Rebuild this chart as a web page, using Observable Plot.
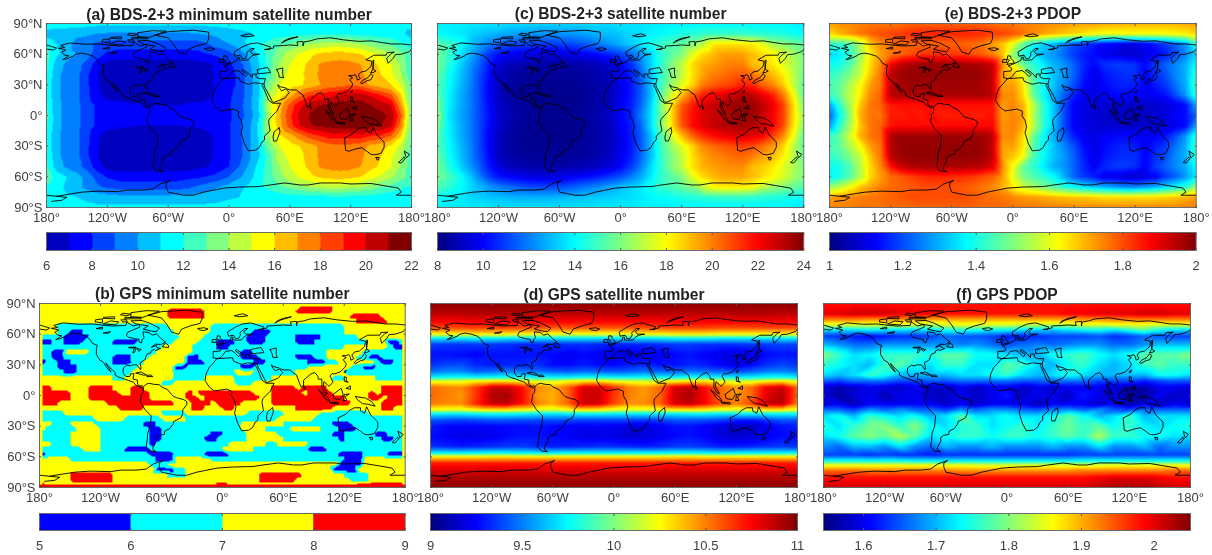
<!DOCTYPE html>
<html><head><meta charset="utf-8">
<script src="https://cdn.jsdelivr.net/npm/d3@7"></script>
<script src="https://cdn.jsdelivr.net/npm/@observablehq/plot@0.6"></script>
<style>
html,body{margin:0;padding:0;background:#fff;}
#root{position:relative;width:1212px;height:555px;overflow:hidden;filter:blur(0.5px);}
#root>svg{position:absolute;}
</style></head><body><div id="root"></div>
<script>
const lon10 = d3.range(-180,181,10);
const lon15 = d3.range(-180,181,15);
const lat10 = d3.range(90,-91,-10);

// (a) BDS-2+3 minimum satellite number
const aRows = [
[11.5,11.5,11.5,11.4,11.4,11.3, 11.3,11.2,11.2,11.2,11.2,11.2, 11.2,11.2,11.2,11.2,11.3,11.3, 11.4,11.4,11.5,11.5,11.5,11.5, 11.5,11.5,11.5,11.5,11.5,11.5, 11.5,11.5,11.5,11.5,11.5,11.5,11.5],
[10.6,10.5,10.4,10.3,10.2,10, 9.9,9.9,9.9,9.9,9.9,9.9, 9.9,9.9,9.9,10,10.2,10.4, 10.5,10.7,10.9,11.2,11.4,11.5, 11.6,11.6,11.7,11.8,11.8,11.8, 11.7,11.6,11.6,11.5,11.4,11.2,10.6],
[11.5,11,10.5,9.5,9.2,8.8, 8.5,8.5,8.5,8.5,8.5,8.5, 8.5,8.5,8.5,8.6,9,9.5, 10,10.5,11.2,11.8,12.3,12.8, 13,13.5,14,14.2,14.4,14.4, 14.3,14,13.5,13,12.8,12.2,11.5],
[12.4,11.2,10.4,10,9.4,8.5, 7.8,7.6,7.5,7.5,7.5,7.5, 7.5,7.5,7.6,7.7,8,8.3, 8.6,9.5,10.3,11.2,12.5,13.5, 14.5,15.2,15.7,16.2,16.4,16.5, 16.3,16,15.4,14.8,14.2,13.4,12.4],
[12.2,10.5,9.8,9.4,8.6,7.5, 6.6,6.5,6.5,6.5,6.5,6.5, 6.5,6.5,6.5,6.6,6.8,7.4, 7.8,8.5,9.8,11,12.5,14, 15,15.6,16.3,17.1,17.3,17.4, 17.3,17,16.3,15.8,15,13.8,12.2],
[12,10.3,9.6,9.3,8.2,7.1, 6.5,6.4,6.4,6.4,6.4,6.4, 6.4,6.4,6.4,6.4,6.7,7.3, 7.7,8.2,9.6,11,12.5,14.6, 15.3,15.7,16.5,17.2,17.4,17.5, 17.6,17.2,16.5,16,15.2,14,12.2],
[11.8,10.2,9.6,9.3,8.2,7.1, 6.5,6.4,6.3,6.3,6.3,6.3, 6.3,6.3,6.3,6.4,6.7,7.3, 7.7,8.2,9.6,11,13.5,15, 15.5,15.8,16.4,17,17.4,17.6, 17.8,17.6,16.8,16.4,16,14.8,12.8],
[11.8,10.2,9.6,9.3,8.3,7.2, 6.7,6.7,6.7,6.6,6.6,6.6, 6.6,6.6,6.6,6.7,6.8,7.3, 7.8,8.4,9.6,11,14.3,15.5, 16.5,17.8,18.8,19.2,19.8,20, 20.5,20.5,19.8,19,18.2,16,12.8],
[12,10.3,9.7,9.3,8.5,7.8, 7.3,7.2,7.1,7.1,7,7, 7,7,7.1,7.1,7.3,7.6, 7.9,8.6,9.7,11.2,14.8,16.5, 18.3,19.8,20.6,21,21.2,21.5, 21.6,21.4,21,20.6,20,17,13],
[12.4,10.3,9.7,9.3,8.5,7.8, 7.3,7.2,7.3,7.1,7.4,7.1, 7.3,7.2,7.4,7.1,7.3,7.6, 7.8,8.5,9.5,11,14.5,16.8, 18.8,20.3,21.1,21.5,21.7,21.8, 21.8,21.8,21.6,21.3,20.8,18,13],
[12,10.3,9.7,9.3,8.5,7.8, 7.3,7.2,7.1,7,7,7, 7,7,7.1,7.1,7.3,7.6, 7.9,8.8,9.8,11.3,14.8,16.6, 18.5,20,20.9,21.2,21.4,21.6, 21.7,21.6,21.3,21,20.2,17.4,13],
[11.8,10.2,9.6,9.3,8.3,7.2, 6.6,6.5,6.4,6.4,6.4,6.4, 6.4,6.4,6.4,6.5,6.8,7.3, 7.9,8.8,9.8,11.2,14.2,15.8, 16.5,17.5,18.5,19,19.5,19.5, 19.5,19.5,19,18.8,18,16,12.8],
[11.8,10.2,9.6,9.3,8.2,7.1, 6.5,6.4,6.3,6.3,6.3,6.3, 6.3,6.3,6.3,6.4,6.8,7.3, 7.9,8.6,9.8,11.1,13.5,15, 15.5,16,16.6,17.2,17.6,17.7, 17.6,17.4,16.7,16.3,15.8,14.6,12.8],
[12,10.3,9.6,9.3,8.2,7.1, 6.5,6.4,6.4,6.4,6.4,6.4, 6.4,6.4,6.4,6.5,6.8,7.3, 7.9,8.6,9.8,11,12.5,14.6, 15.3,15.7,16.5,17.2,17.4,17.6, 17.6,17.2,16.5,16,15.2,14,12.4],
[12.2,10.5,9.8,9.4,8.6,7.5, 6.6,6.5,6.5,6.5,6.5,6.5, 6.5,6.5,6.6,6.8,7,7.5, 8,9,10.2,11.4,12.6,14, 15,15.6,16.3,17.1,17.3,17.4, 17.3,17,16.3,15.8,15,13.8,12.4],
[12.6,11.6,11,10.4,9.6,8.6, 7.9,7.6,7.5,7.5,7.5,7.5, 7.5,7.6,7.7,7.8,8.1,8.4, 9,9.8,10.6,11.6,12.6,13.6, 14.5,15.2,15.7,16.2,16.4,16.5, 16.3,16,15.4,14.8,14.2,13.4,12.6],
[11.8,11.4,10.8,10.3,9.7,9.2, 8.8,8.6,8.5,8.5,8.5,8.5, 8.5,8.6,8.8,9.2,9.6,10, 10.4,10.8,11.2,11.8,12.2,12.8, 13.2,13.6,14,14.2,14.4,14.4, 14.2,14,13.6,13,12.6,12.2,11.8],
[11.3,11.2,11.1,11,10.8,10.6, 10.5,10.4,10.4,10.4,10.4,10.4, 10.4,10.5,10.5,10.6,10.7,10.8, 10.9,11,11.1,11.2,11.3,11.4, 11.5,11.5,11.6,11.6,11.7,11.7, 11.7,11.6,11.6,11.5,11.5,11.4,11.3],
[11.3,11.3,11.3,11.3,11.2,11.2, 11.2,11.2,11.2,11.2,11.2,11.2, 11.2,11.2,11.2,11.2,11.2,11.2, 11.3,11.3,11.3,11.3,11.4,11.4, 11.4,11.4,11.4,11.4,11.4,11.4, 11.4,11.4,11.4,11.4,11.4,11.3,11.3]
];

// (b) GPS minimum satellite number: rows of [value, run length] on a 6 x 5 degree grid
const bRuns = [
[7,43,8,5,7,12],
[7,21,8,6,7,15,8,6,7,12],
[7,21,8,6,7,24,8,5,7,4],
[7,52,8,5,7,3],
[7,3,6,18,7,7,6,22,7,10],
[7,3,6,2,5,2,6,15,7,6,6,7,5,3,6,12,7,10],
[6,4,5,4,6,15,7,4,6,7,5,3,6,5,5,4,6,6,7,8],
[5,2,6,2,5,3,6,5,5,4,6,6,7,4,6,3,5,3,6,2,5,3,6,5,5,3,6,9,7,3,5,2,6,1],
[6,20,7,5,6,4,5,2,6,19,7,7,6,1,5,2],
[6,2,5,2,7,4,6,11,7,6,6,8,5,2,6,12,7,6,6,7],
[6,2,5,2,6,8,5,3,6,3,7,6,5,2,6,7,5,3,6,6,5,3,6,2,7,5,6,2,5,2,6,4],
[5,1,6,2,5,2,6,7,5,3,6,2,7,7,5,3,6,8,5,2,6,7,5,3,6,2,7,6,6,1,5,2,6,2],
[6,3,5,3,6,10,7,6,5,2,6,9,5,2,6,9,7,7,6,2,5,2,6,5],
[6,4,5,2,6,9,7,7,6,10,7,3,6,7,7,8,6,10],
[7,12,6,2,7,8,6,5,7,5,6,6,7,10,6,2,7,5,6,5],
[7,20,6,2,7,10,6,3,7,25],
[8,2,7,6,8,4,7,3,8,2,7,21,8,4,7,1,8,4,7,9,8,4],
[8,5,7,3,8,5,7,2,8,3,7,6,8,1,7,1,8,9,7,3,8,5,7,1,8,4,7,6,8,1,7,1,8,4],
[8,5,7,3,8,10,7,6,8,2,7,1,8,9,7,2,8,12,7,4,8,2,7,1,8,3],
[8,3,7,8,8,11,7,3,8,3,7,1,8,4,7,5,8,13,7,5,8,4],
[7,13,8,4,7,8,8,2,7,3,8,2,7,10,8,6,7,8,8,2,7,2],
[6,4,7,16,6,4,7,10,6,6,7,6,6,8,7,6],
[6,9,7,5,6,6,7,4,6,15,7,6,6,15],
[7,2,6,3,7,4,6,8,5,2,6,14,7,7,6,8,5,3,6,9],
[7,1,6,5,7,4,6,8,5,2,6,13,7,4,6,4,7,5,6,3,5,3,6,8],
[6,5,7,5,6,8,5,2,6,8,5,2,6,4,7,5,6,9,5,2,6,5,5,2,6,3],
[6,5,7,5,6,8,5,2,6,7,5,2,6,5,7,6,6,9,5,1,6,6,5,2,6,2],
[7,2,6,3,7,5,6,8,5,1,6,12,7,6,6,2,7,5,6,16],
[6,7,7,3,6,4,5,4,6,12,7,5,6,9,5,3,6,13],
[5,1,6,17,5,4,6,5,5,4,6,18,5,4,6,4,5,3],
[7,5,6,14,5,3,7,6,6,22,5,3,7,7],
[7,18,6,3,7,28,5,4,7,7],
[7,19,5,3,6,2,7,24,5,4,7,8],
[7,5,8,7,7,9,6,3,7,12,8,7,7,7,6,4,7,6],
[7,5,8,7,7,24,8,6,7,9,6,3,7,6],
[8,1,7,28,8,2,7,21,8,8]
];

// (c) BDS-2+3 satellite number
const cRows = [
[13.8,13.8,13.8,13.7,13.7,13.6, 13.6,13.5,13.5,13.4,13.4,13.4, 13.4,13.4,13.4,13.5,13.5,13.5, 13.6,13.6,13.6,13.7,13.7,13.8, 13.8,13.8,13.9,13.9,13.9,13.9, 13.9,13.9,13.9,13.9,13.9,13.8,13.8],
[14,13.9,13.7,13.5,13.2,13, 12.8,12.6,12.5,12.4,12.3,12.3, 12.3,12.4,12.5,12.7,12.9,13, 13.2,13.4,13.6,13.8,14,14.2, 14.4,14.6,14.7,14.8,14.8,14.8, 14.8,14.7,14.6,14.5,14.4,14.2,14],
[15.4,15,14.4,13.4,12.6,12, 11.6,11.3,11.1,11,10.9,10.9, 11,11.1,11.3,11.6,12,12.4, 12.8,13.2,13.7,14.3,14.9,15.2, 15.5,16,16.8,18.2,18.3,18.4, 18.3,18.2,17.5,16.5,16.2,15.8,15.4],
[15.8,15,13.8,13,12,10.8, 10.2,9.9,9.7,9.5,9.4,9.4, 9.5,9.6,9.8,10,10.3,10.6, 11,11.6,12.4,13.4,14.6,15.4, 16,17.5,18.5,19,19.5,19.5, 19.5,19,18.5,18,17.4,16.6,15.8],
[16,14.6,13.6,12.6,11.6,10.4, 9.4,8.9,8.8,8.7,8.6,8.6, 8.6,8.6,8.7,8.8,9,9.3, 10,10.6,12,13.4,14.8,16, 17,18.5,19.2,19.5,19.8,20, 20,19,18.8,18.3,17.5,16.8,16],
[15.6,14.3,13.3,12.4,11.3,10.2, 9,8.7,8.5,8.4,8.4,8.4, 8.4,8.4,8.5,8.6,8.8,9, 9.8,10.4,11.6,13,14.8,16, 17,18.4,19.4,20,20.2,20.5, 20.6,20.2,19.6,19,18.2,17,15.6],
[15.4,14.2,13.2,12.3,11.2,10, 9,8.6,8.4,8.3,8.3,8.3, 8.3,8.3,8.4,8.5,8.7,9, 9.7,10.3,11.4,13,15,16.4, 17.5,18.6,20,20.5,20.8,21, 21.6,21.3,20.4,19.8,18.8,17,15.5],
[15.4,14,13,12.2,11.2,10, 9,8.6,8.4,8.3,8.2,8.2, 8.2,8.2,8.3,8.5,8.7,9, 9.7,10.3,11.4,13,15.3,17.4, 19,20.5,21.5,22,22.4,22.8, 23.2,23,22.3,21.5,20,18,15.4],
[16,14,13,12.2,11.2,10.2, 9.2,8.8,8.5,8.3,8.2,8.2, 8.2,8.2,8.3,8.5,8.7,9, 9.8,10.4,11.6,13.4,16,18.4, 20.6,21.6,22.4,22.9,23.2,23.5, 23.8,23.5,23,22.2,21,18.5,16],
[16.5,13.8,12.8,12.1,11.2,10.3, 9.2,8.9,8.6,8.4,8.3,8.3, 8.3,8.3,8.4,8.6,8.8,9.2, 9.9,10.5,12,13.6,15.8,18.5, 20.8,21.8,22.5,22.8,23,23.5, 23.8,23.5,22.8,22,21,18.5,16.5],
[16,14,13,12.2,11.2,10.2, 9.2,8.8,8.5,8.3,8.2,8.2, 8.2,8.2,8.3,8.5,8.7,9, 9.8,10.4,11.6,13.6,16,18.4, 20.6,21.8,22.5,22.9,23.1,23.3, 23.4,23.2,22.8,22,20.8,18.4,16],
[15.4,14,13,12.2,11.2,10, 9,8.6,8.4,8.3,8.2,8.2, 8.2,8.2,8.3,8.5,8.7,9, 9.7,10.3,11.4,13,15.2,17.2, 19,20.4,21.3,21.8,22.2,22.4, 22.6,22.4,22,21,19.8,17.8,15.4],
[15.4,14.2,13.2,12.3,11.2,10, 9,8.6,8.4,8.3,8.3,8.3, 8.3,8.3,8.4,8.5,8.7,9, 9.7,10.3,11.4,13,15,16.4, 17.5,18.6,19.8,20.3,20.6,20.8, 21,20.8,20.2,19.6,18.6,17,15.4],
[15.6,14.3,13.3,12.4,11.3,10.2, 9,8.7,8.5,8.4,8.4,8.4, 8.4,8.4,8.5,8.6,8.8,9.1, 9.8,10.4,11.6,13,14.8,16, 17,18.4,19.3,19.8,20,20.3, 20.4,20,19.5,19,18.2,17,15.6],
[16,14.6,13.6,12.6,11.6,10.4, 9.5,9,8.8,8.7,8.6,8.6, 8.6,8.7,8.8,8.9,9.1,9.4, 10,10.8,12,13.4,14.8,16, 17,18.4,19.2,19.5,19.7,19.8, 19.8,19,18.8,18.3,17.5,16.8,16],
[16,15.2,14.4,13.4,12.2,11, 10.3,10,9.8,9.6,9.5,9.5, 9.6,9.8,10,10.2,10.5,10.9, 11.3,11.9,12.7,13.7,14.8,15.4, 16,17.5,18.5,19,19.4,19.4, 19.4,19,18.5,18,17.4,16.6,16],
[15.2,14.8,14.2,13.6,13,12.4, 12,11.7,11.4,11.2,11.1,11.1, 11.2,11.4,11.7,12,12.3,12.6, 13,13.3,13.7,14.2,14.8,15.2, 15.5,16,17,18,18.2,18.3, 18.2,18,17,16.4,16.1,15.6,15.2],
[14,13.9,13.7,13.5,13.3,13.1, 13,12.9,12.8,12.8,12.8,12.8, 12.9,13,13,13.1,13.2,13.3, 13.4,13.5,13.7,13.9,14,14.2, 14.3,14.5,14.6,14.7,14.8,14.8, 14.8,14.7,14.6,14.5,14.4,14.2,14],
[13.8,13.8,13.8,13.7,13.7,13.7, 13.6,13.6,13.6,13.6,13.6,13.6, 13.6,13.6,13.6,13.6,13.7,13.7, 13.7,13.7,13.8,13.8,13.8,13.8, 13.9,13.9,13.9,13.9,13.9,13.9, 13.9,13.9,13.9,13.9,13.9,13.8,13.8]
];

// (e) BDS-2+3 PDOP
const eRows = [
[1.72,1.74,1.74,1.75,1.76,1.76, 1.76,1.76,1.78,1.78,1.78,1.78, 1.78,1.78,1.78,1.78,1.77,1.76, 1.76,1.75,1.75,1.74,1.74,1.73, 1.72,1.72,1.72,1.71,1.7,1.7, 1.7,1.7,1.7,1.7,1.7,1.71,1.72],
[1.66,1.7,1.73,1.76,1.78,1.8, 1.81,1.82,1.83,1.84,1.84,1.84, 1.84,1.84,1.84,1.83,1.82,1.81, 1.79,1.77,1.74,1.72,1.7,1.68, 1.66,1.65,1.63,1.62,1.62,1.62, 1.62,1.62,1.62,1.62,1.63,1.64,1.66],
[1.42,1.42,1.45,1.55,1.68,1.74, 1.76,1.78,1.78,1.78,1.78,1.78, 1.78,1.78,1.77,1.76,1.72,1.68, 1.6,1.48,1.38,1.33,1.3,1.25, 1.2,1.17,1.15,1.13,1.12,1.1, 1.1,1.12,1.15,1.18,1.22,1.28,1.42],
[1.34,1.36,1.42,1.52,1.64,1.72, 1.76,1.78,1.8,1.82,1.83,1.83, 1.82,1.82,1.8,1.78,1.75,1.68, 1.52,1.4,1.35,1.3,1.27,1.23, 1.18,1.15,1.13,1.1,1.1,1.08, 1.08,1.1,1.12,1.15,1.2,1.26,1.34],
[1.38,1.4,1.45,1.55,1.66,1.74, 1.88,1.94,1.96,1.97,1.97,1.97, 1.97,1.97,1.96,1.95,1.92,1.74, 1.62,1.48,1.42,1.36,1.3,1.27, 1.22,1.16,1.13,1.17,1.18,1.18, 1.17,1.13,1.18,1.22,1.26,1.3,1.38],
[1.42,1.45,1.5,1.57,1.68,1.76, 1.94,1.97,1.98,1.98,1.98,1.98, 1.98,1.98,1.98,1.97,1.94,1.72, 1.68,1.62,1.45,1.38,1.32,1.28, 1.22,1.15,1.1,1.14,1.16,1.17, 1.17,1.12,1.17,1.2,1.26,1.3,1.42],
[1.44,1.47,1.55,1.62,1.72,1.76, 1.93,1.96,1.97,1.97,1.97,1.97, 1.97,1.97,1.97,1.96,1.93,1.72, 1.72,1.65,1.46,1.38,1.32,1.26, 1.2,1.13,1.1,1.13,1.15,1.16, 1.15,1.12,1.15,1.18,1.24,1.3,1.44],
[1.42,1.48,1.56,1.64,1.74,1.78, 1.94,1.96,1.96,1.96,1.96,1.96, 1.96,1.96,1.96,1.96,1.94,1.74, 1.74,1.66,1.48,1.38,1.3,1.22, 1.15,1.11,1.1,1.12,1.13,1.13, 1.12,1.11,1.12,1.14,1.2,1.28,1.42],
[1.28,1.42,1.54,1.68,1.76,1.78, 1.85,1.86,1.86,1.86,1.86,1.86, 1.86,1.86,1.86,1.86,1.86,1.72, 1.75,1.7,1.56,1.42,1.32,1.2, 1.12,1.1,1.09,1.08,1.08,1.07, 1.07,1.07,1.08,1.09,1.11,1.14,1.28],
[1.22,1.38,1.52,1.7,1.76,1.76, 1.85,1.85,1.86,1.85,1.87,1.85, 1.85,1.85,1.85,1.85,1.86,1.72, 1.74,1.72,1.55,1.42,1.32,1.2, 1.12,1.1,1.08,1.08,1.07,1.07, 1.06,1.07,1.08,1.09,1.12,1.14,1.22],
[1.28,1.42,1.54,1.68,1.76,1.78, 1.86,1.87,1.87,1.87,1.87,1.87, 1.87,1.87,1.87,1.87,1.87,1.73, 1.75,1.7,1.56,1.42,1.32,1.2, 1.12,1.1,1.09,1.08,1.08,1.07, 1.07,1.07,1.08,1.09,1.11,1.14,1.28],
[1.42,1.48,1.58,1.7,1.76,1.78, 1.95,1.97,1.97,1.97,1.97,1.97, 1.97,1.97,1.97,1.97,1.94,1.74, 1.74,1.66,1.48,1.38,1.3,1.22, 1.15,1.11,1.1,1.12,1.13,1.13, 1.12,1.11,1.12,1.14,1.2,1.28,1.42],
[1.44,1.47,1.55,1.62,1.72,1.76, 1.95,1.98,1.98,1.98,1.98,1.98, 1.98,1.98,1.98,1.97,1.93,1.72, 1.72,1.65,1.46,1.38,1.32,1.26, 1.2,1.13,1.1,1.13,1.15,1.16, 1.15,1.12,1.15,1.18,1.24,1.3,1.44],
[1.42,1.45,1.5,1.57,1.68,1.76, 1.94,1.97,1.98,1.98,1.98,1.98, 1.98,1.98,1.98,1.97,1.94,1.72, 1.68,1.62,1.45,1.38,1.32,1.28, 1.22,1.15,1.1,1.14,1.16,1.17, 1.17,1.12,1.17,1.2,1.26,1.3,1.42],
[1.38,1.4,1.45,1.55,1.66,1.74, 1.86,1.93,1.95,1.96,1.96,1.96, 1.96,1.96,1.95,1.94,1.9,1.74, 1.62,1.48,1.42,1.36,1.3,1.27, 1.22,1.16,1.12,1.16,1.18,1.18, 1.17,1.12,1.18,1.22,1.26,1.3,1.38],
[1.36,1.4,1.46,1.55,1.66,1.72, 1.77,1.79,1.81,1.83,1.84,1.84, 1.83,1.83,1.82,1.8,1.78,1.72, 1.6,1.5,1.45,1.42,1.38,1.3, 1.22,1.18,1.15,1.1,1.1,1.08, 1.08,1.1,1.12,1.18,1.22,1.28,1.36],
[1.52,1.56,1.62,1.68,1.72,1.75, 1.77,1.78,1.79,1.8,1.8,1.8, 1.8,1.79,1.78,1.76,1.74,1.7, 1.64,1.58,1.54,1.5,1.46,1.42, 1.38,1.35,1.32,1.3,1.28,1.26, 1.26,1.28,1.3,1.34,1.38,1.42,1.52],
[1.72,1.73,1.74,1.75,1.76,1.77, 1.78,1.79,1.8,1.8,1.8,1.8, 1.8,1.8,1.79,1.78,1.77,1.76, 1.74,1.73,1.72,1.71,1.7,1.69, 1.68,1.68,1.67,1.66,1.66,1.66, 1.66,1.66,1.66,1.67,1.68,1.7,1.72],
[1.75,1.75,1.75,1.76,1.76,1.76, 1.77,1.77,1.77,1.78,1.78,1.78, 1.78,1.78,1.78,1.77,1.77,1.77, 1.76,1.76,1.76,1.75,1.75,1.75, 1.74,1.74,1.74,1.74,1.74,1.74, 1.74,1.74,1.74,1.74,1.74,1.75,1.75]
];

// (d) GPS satellite number
const dLats = [90,80,72,66,60,56,50,40,30,24,18,14,8,0,-8,-14,-18,-24,-30,-40,-50,-56,-60,-66,-72,-80,-90];
const dRows = [
[10.97,10.97,10.97,10.97,10.97,10.97, 10.97,10.97,10.97,10.97,10.97,10.97, 10.97,10.97,10.97,10.97,10.97,10.97, 10.97,10.97,10.97,10.97,10.97,10.97,10.97],
[10.88,10.88,10.88,10.9,10.9,10.9, 10.9,10.88,10.88,10.88,10.88,10.88, 10.88,10.88,10.88,10.88,10.88,10.88, 10.88,10.88,10.9,10.9,10.9,10.88,10.88],
[10.75,10.75,10.75,10.76,10.76,10.76, 10.75,10.75,10.75,10.75,10.74,10.74, 10.74,10.74,10.75,10.75,10.76,10.76, 10.76,10.75,10.75,10.75,10.75,10.75,10.75],
[10.6,10.6,10.6,10.62,10.62,10.62, 10.6,10.6,10.58,10.58,10.58,10.58, 10.58,10.58,10.6,10.6,10.62,10.62, 10.62,10.6,10.6,10.6,10.6,10.6,10.6],
[10.25,10.25,10.25,10.28,10.28,10.28, 10.25,10.25,10.22,10.22,10.22,10.22, 10.22,10.22,10.25,10.25,10.28,10.28, 10.28,10.25,10.25,10.25,10.25,10.25,10.25],
[9.72,9.72,9.72,9.75,9.75,9.72, 9.7,9.7,9.7,9.7,9.7,9.7, 9.7,9.7,9.7,9.72,9.75,9.75, 9.75,9.72,9.72,9.72,9.72,9.72,9.72],
[9.38,9.35,9.35,9.36,9.36,9.34, 9.32,9.32,9.32,9.34,9.34,9.32, 9.3,9.32,9.32,9.34,9.36,9.36, 9.34,9.34,9.34,9.36,9.36,9.38,9.38],
[9.28,9.28,9.26,9.24,9.28,9.28, 9.28,9.28,9.26,9.22,9.26,9.24, 9.2,9.2,9.22,9.22,9.26,9.28, 9.24,9.2,9.18,9.2,9.26,9.28,9.28],
[9.34,9.38,9.4,9.32,9.3,9.32, 9.32,9.34,9.26,9.26,9.3,9.26, 9.26,9.3,9.32,9.28,9.28,9.32, 9.3,9.24,9.2,9.26,9.34,9.38,9.34],
[9.45,9.5,9.5,9.42,9.44,9.48, 9.46,9.45,9.42,9.4,9.44,9.42, 9.4,9.42,9.46,9.42,9.42,9.46, 9.44,9.42,9.38,9.42,9.48,9.5,9.45],
[9.72,9.74,9.76,9.72,9.74,9.76, 9.74,9.72,9.72,9.72,9.74,9.74, 9.72,9.72,9.74,9.72,9.72,9.76, 9.74,9.72,9.7,9.72,9.76,9.76,9.72],
[10.2,10.2,10.2,10.28,10.3,10.3, 10.25,10.18,10.16,10.25,10.3,10.3, 10.22,10.18,10.16,10.2,10.25,10.3, 10.3,10.22,10.16,10.16,10.25,10.3,10.2],
[10.55,10.5,10.48,10.65,10.85,10.85, 10.72,10.48,10.42,10.56,10.82,10.82, 10.65,10.5,10.45,10.55,10.82,10.88, 10.72,10.55,10.45,10.55,10.78,10.85,10.55],
[10.55,10.5,10.45,10.65,10.9,10.92, 10.75,10.45,10.4,10.55,10.85,10.85, 10.65,10.5,10.45,10.55,10.85,10.92, 10.75,10.55,10.45,10.55,10.8,10.9,10.55],
[10.52,10.48,10.48,10.68,10.85,10.88, 10.72,10.5,10.42,10.56,10.84,10.82, 10.62,10.48,10.48,10.56,10.82,10.86, 10.74,10.6,10.5,10.62,10.85,10.88,10.52],
[10.22,10.2,10.18,10.26,10.3,10.3, 10.25,10.18,10.16,10.24,10.3,10.28, 10.2,10.18,10.18,10.22,10.28,10.3, 10.28,10.2,10.18,10.22,10.3,10.3,10.22],
[9.74,9.72,9.72,9.74,9.76,9.76, 9.74,9.72,9.7,9.72,9.74,9.74, 9.72,9.72,9.72,9.72,9.72,9.74, 9.74,9.72,9.72,9.72,9.74,9.74,9.74],
[9.42,9.4,9.38,9.4,9.42,9.42, 9.4,9.4,9.4,9.4,9.38,9.38, 9.38,9.38,9.36,9.38,9.42,9.42, 9.4,9.38,9.32,9.3,9.36,9.42,9.42],
[9.3,9.26,9.24,9.24,9.24,9.26, 9.26,9.28,9.26,9.24,9.22,9.24, 9.22,9.18,9.18,9.22,9.28,9.28, 9.24,9.18,9.14,9.12,9.22,9.28,9.3],
[9.26,9.24,9.2,9.2,9.22,9.26, 9.28,9.28,9.26,9.24,9.2,9.2, 9.2,9.16,9.18,9.22,9.26,9.28, 9.24,9.18,9.16,9.18,9.22,9.26,9.26],
[9.34,9.32,9.3,9.32,9.34,9.36, 9.36,9.32,9.3,9.3,9.32,9.34, 9.34,9.32,9.3,9.32,9.36,9.36, 9.34,9.3,9.3,9.32,9.34,9.36,9.34],
[9.72,9.72,9.7,9.72,9.74,9.74, 9.72,9.7,9.7,9.72,9.72,9.72, 9.72,9.72,9.72,9.72,9.74,9.74, 9.72,9.7,9.7,9.72,9.72,9.72,9.72],
[10.28,10.28,10.28,10.28,10.3,10.3, 10.28,10.28,10.28,10.28,10.28,10.28, 10.28,10.28,10.28,10.28,10.3,10.3, 10.28,10.28,10.28,10.28,10.28,10.28,10.28],
[10.7,10.7,10.7,10.7,10.7,10.7, 10.7,10.7,10.7,10.7,10.7,10.7, 10.7,10.7,10.7,10.7,10.7,10.7, 10.7,10.7,10.7,10.7,10.7,10.7,10.7],
[10.8,10.8,10.8,10.8,10.82,10.82, 10.8,10.8,10.8,10.8,10.8,10.8, 10.8,10.8,10.8,10.8,10.82,10.82, 10.8,10.8,10.8,10.8,10.8,10.8,10.8],
[10.9,10.9,10.9,10.9,10.9,10.9, 10.9,10.9,10.9,10.9,10.9,10.9, 10.9,10.9,10.9,10.9,10.9,10.9, 10.9,10.9,10.9,10.9,10.9,10.9,10.9],
[10.98,10.98,10.98,10.98,10.98,10.98, 10.98,10.98,10.98,10.98,10.98,10.98, 10.98,10.98,10.98,10.98,10.98,10.98, 10.98,10.98,10.98,10.98,10.98,10.98,10.98]
];

// (f) GPS PDOP
const fLats = [90,80,74,69,64,58,50,40,30,20,14,8,0,-8,-14,-20,-30,-40,-50,-58,-64,-68,-74,-80,-90];
const fRows = [
[1.98,1.98,1.98,1.98,1.98,1.98, 1.98,1.98,1.98,1.98,1.98,1.98, 1.98,1.98,1.98,1.98,1.98,1.98, 1.98,1.98,1.98,1.98,1.98,1.98,1.98],
[2,2,2.01,2.01,2.01,2,  1.99,1.99,1.98,1.98,1.98,1.98, 1.98,1.98,1.98,1.98,1.99,1.99, 2,2,2,2.01,2.01,2,2],
[1.92,1.92,1.92,1.91,1.91,1.91, 1.9,1.9,1.9,1.9,1.9,1.9, 1.9,1.9,1.9,1.9,1.9,1.91, 1.91,1.92,1.92,1.92,1.92,1.92,1.92],
[1.84,1.84,1.84,1.84,1.84,1.84, 1.84,1.82,1.84,1.85,1.85,1.84, 1.84,1.83,1.83,1.82,1.82,1.84, 1.84,1.85,1.85,1.85,1.84,1.84,1.84],
[1.72,1.72,1.72,1.73,1.72,1.72, 1.71,1.72,1.74,1.75,1.74,1.73, 1.73,1.72,1.71,1.7,1.72,1.73, 1.74,1.72,1.75,1.78,1.74,1.72,1.72],
[1.64,1.63,1.62,1.61,1.62,1.63, 1.63,1.64,1.66,1.65,1.65,1.64, 1.62,1.62,1.63,1.64,1.64,1.64, 1.65,1.63,1.64,1.66,1.65,1.64,1.64],
[1.7,1.68,1.66,1.66,1.68,1.68, 1.68,1.68,1.68,1.67,1.68,1.66, 1.64,1.66,1.67,1.66,1.67,1.68, 1.68,1.66,1.66,1.68,1.7,1.7,1.7],
[1.8,1.76,1.72,1.73,1.76,1.76, 1.76,1.75,1.78,1.78,1.74,1.74, 1.72,1.7,1.7,1.74,1.76,1.77, 1.74,1.72,1.74,1.78,1.78,1.78,1.8],
[1.76,1.74,1.72,1.7,1.76,1.78, 1.74,1.72,1.76,1.76,1.72,1.72, 1.78,1.76,1.72,1.7,1.74,1.76, 1.72,1.7,1.72,1.76,1.78,1.76,1.76],
[1.72,1.7,1.72,1.76,1.74,1.7, 1.7,1.7,1.7,1.72,1.72,1.74, 1.76,1.72,1.7,1.72,1.74,1.72, 1.7,1.7,1.7,1.7,1.74,1.74,1.72],
[1.65,1.64,1.66,1.66,1.66,1.64, 1.64,1.65,1.65,1.66,1.66,1.66, 1.66,1.65,1.65,1.66,1.66,1.66, 1.64,1.64,1.64,1.62,1.64,1.65,1.65],
[1.59,1.57,1.58,1.6,1.59,1.58, 1.6,1.58,1.58,1.6,1.58,1.6, 1.6,1.58,1.6,1.58,1.6,1.6, 1.6,1.59,1.56,1.57,1.6,1.6,1.59],
[1.59,1.56,1.59,1.6,1.57,1.6, 1.6,1.58,1.58,1.6,1.58,1.6, 1.62,1.58,1.6,1.6,1.58,1.62, 1.6,1.6,1.56,1.56,1.6,1.58,1.59],
[1.58,1.6,1.57,1.6,1.6,1.6, 1.6,1.6,1.58,1.6,1.58,1.6, 1.6,1.6,1.57,1.6,1.6,1.6, 1.58,1.6,1.56,1.6,1.58,1.6,1.58],
[1.66,1.66,1.64,1.68,1.66,1.68, 1.66,1.66,1.64,1.68,1.66,1.68, 1.68,1.66,1.65,1.67,1.68,1.66, 1.68,1.65,1.64,1.66,1.66,1.66,1.66],
[1.72,1.74,1.7,1.76,1.74,1.72, 1.74,1.7,1.72,1.78,1.72,1.72, 1.74,1.72,1.72,1.74,1.78,1.74, 1.7,1.72,1.76,1.7,1.72,1.72,1.72],
[1.75,1.72,1.76,1.79,1.8,1.76, 1.8,1.74,1.72,1.75,1.76,1.72, 1.74,1.76,1.73,1.76,1.79,1.76, 1.78,1.74,1.76,1.73,1.72,1.74,1.75],
[1.72,1.74,1.78,1.8,1.78,1.82, 1.78,1.72,1.74,1.76,1.76,1.74, 1.76,1.76,1.74,1.76,1.78,1.76, 1.82,1.76,1.76,1.74,1.74,1.72,1.72],
[1.68,1.66,1.7,1.7,1.68,1.72, 1.68,1.66,1.7,1.68,1.68,1.7, 1.68,1.68,1.68,1.7,1.68,1.68, 1.72,1.68,1.68,1.7,1.66,1.68,1.68],
[1.64,1.64,1.64,1.63,1.64,1.63, 1.63,1.62,1.63,1.63,1.63,1.63, 1.63,1.63,1.63,1.63,1.63,1.64, 1.64,1.64,1.64,1.64,1.64,1.64,1.64],
[1.74,1.74,1.74,1.74,1.74,1.74, 1.73,1.73,1.73,1.73,1.73,1.73, 1.73,1.73,1.73,1.73,1.73,1.74, 1.74,1.74,1.74,1.74,1.74,1.74,1.74],
[1.85,1.85,1.85,1.85,1.85,1.85, 1.85,1.85,1.85,1.85,1.84,1.84, 1.84,1.84,1.84,1.84,1.84,1.84, 1.84,1.85,1.85,1.85,1.85,1.85,1.85],
[1.94,1.94,1.94,1.93,1.93,1.93, 1.93,1.93,1.93,1.92,1.92,1.92, 1.92,1.92,1.92,1.92,1.92,1.93, 1.93,1.93,1.93,1.93,1.93,1.94,1.94],
[1.98,1.98,1.98,1.98,1.98,1.98, 1.98,1.98,1.98,1.98,1.98,1.98, 1.98,1.98,1.98,1.98,1.98,1.98, 1.99,2,2,2,1.99,1.98,1.98],
[2.01,2.01,2.01,2.01,2.01,2.01, 2.01,2.01,2.01,2.01,2.01,2.01, 2.01,2.01,2.01,2.01,2.01,2.01, 2.02,2.03,2.03,2.03,2.02,2.01,2.01]
];

// Axis labels
const xTicks = [-180,-120,-60,0,60,120,180];
const xLabels = ["180°","120°W","60°W","0°","60°E","120°E","180°"];
const yTicks = [90,60,30,0,-30,-60,-90];
const yLabels = ["90°N","60°N","30°N","0°","30°S","60°S","90°S"];

// Coastlines, [lon, lat]
const coast = [
[[-168,65.7],[-162,66.5],[-166,68.5],[-157,71],[-141,69.7],[-128,70],[-115,68.5],[-108,68],[-95,68.5],[-94,72],[-88,68],[-82,69.5],[-81,67],[-87,64.5],[-93,62],[-94.5,59],[-92.5,57],[-85,55.3],[-82,55],[-82,52.5],[-79.5,51.5],[-79,54.5],[-77,56.5],[-78,60],[-78,62.4],[-72,61.5],[-69,59],[-65,60.3],[-60,55.5],[-56,52.5],[-60,50],[-66,50.2],[-70,47],[-65,49],[-64.5,47],[-61,46],[-66,44],[-67,45],[-70,43.7],[-70.5,41.7],[-74,40.5],[-75.5,37.5],[-76,35],[-81,32],[-80,27],[-80.5,25.2],[-82.5,28],[-84,30],[-89,30],[-90,29],[-94,29.5],[-97.5,27],[-97.8,22],[-95,18.5],[-91,18.7],[-90.5,21],[-87,21.5],[-88,16],[-83.5,15],[-83.5,11],[-81,9],[-79,9.5],[-77.5,8.7],[-75,11],[-72,12],[-68,11],[-62,10.5],[-60,8.5],[-54,5.8],[-50,1],[-48,-1],[-44,-2.5],[-38,-4],[-35,-6],[-35,-9],[-39,-14],[-39,-18],[-41,-22],[-48,-25.5],[-48.5,-28],[-52,-32.5],[-57,-35],[-57,-38],[-62,-39],[-65,-41],[-65,-45],[-68,-50],[-68.5,-53],[-65,-55],[-71,-54.5],[-75,-50],[-74,-44],[-73.5,-37],[-71,-30],[-70,-20],[-76,-14],[-81,-6],[-80,-2],[-80,1],[-78,3],[-77.5,7.5],[-80,7.5],[-85,10],[-87.5,13],[-92,14.5],[-96,16],[-102,18],[-105.5,20],[-105.5,22.5],[-109,25.5],[-112.5,29.5],[-114.7,31.5],[-112,27],[-109.5,23],[-112,25],[-115,29],[-117,32.5],[-120.5,34.5],[-124,40],[-124,46],[-123,49],[-128,51],[-130,54.5],[-134,58],[-140,60],[-146,61],[-151,60],[-154,58],[-160,55.5],[-164,54.6],[-158,58.5],[-162,59],[-165,62],[-161,64],[-168,65.7]],
[[-73,78.5],[-60,82],[-35,83.5],[-20,81.5],[-20,75],[-22,70.5],[-32,68],[-40,65],[-43,60],[-50,62],[-53,67],[-55,70],[-60,76],[-73,78.5]],
[[-80,73.5],[-72,71],[-67,68.5],[-62,66],[-65,62.5],[-70,63],[-78,65],[-73,68],[-85,70],[-90,73],[-80,73.5]],
[[-117,70],[-105,69],[-102,72],[-110,73],[-117,70]],
[[-125,72],[-118,71],[-118,75],[-125,74],[-125,72]],
[[-90,77],[-78,76.5],[-62,82.5],[-75,83],[-90,81],[-90,77]],
[[-96,75],[-80,75],[-80,76],[-96,76.5],[-96,75]],
[[-117,75.5],[-106,75],[-106,77],[-117,76.5],[-117,75.5]],
[[-100,79],[-94,78],[-90,79.5],[-98,80.5],[-100,79]],
[[-98,72],[-94,72],[-94,74],[-100,74],[-98,72]],
[[-59,47.7],[-53,46.8],[-53,49],[-56,51.5],[-59,47.7]],
[[-85,22],[-80,23],[-74.5,20],[-78,20],[-85,22]],
[[-74,18.5],[-68.5,18.5],[-70,20],[-74,19.8],[-74,18.5]],
[[-92,47],[-85,47.5],[-85,46.5],[-92,46.7]],
[[-88,42],[-87,46],[-85,45],[-87,41.7],[-88,42]],
[[-84,46],[-80,45],[-82,43],[-84,46]],
[[-124,65.5],[-118,67],[-118,65],[-124,65.5]],
[[-117,61],[-110,62.5],[-112,61],[-117,61]],
[[-24,65.5],[-18,66.3],[-14,65],[-18,63.5],[-22,64],[-24,65.5]],
[[-5.5,50],[1.5,51.5],[0,54],[-2,56],[-2,58],[-5,58.5],[-5.5,55],[-3,54],[-5,52],[-5.5,50]],
[[-10,52],[-6,52],[-6,55],[-10,54.5],[-10,52]],
[[-9,37],[-9,43],[-2,43.5],[-1,46],[-4.5,48.5],[2,51],[8,54],[8.5,57],[10.5,57],[10,54.5],[14,54],[19,54.5],[21,57],[24,59],[30,60],[23,60],[21,62.5],[25,65.5],[22,65.5],[17,61],[18,59.5],[16,56],[13,55.5],[11,59],[6,58],[5,62],[13,67],[20,70],[28,71],[41,67],[40,64.5],[35,64.5],[44,66],[44,68],[54,68.5],[60,69],[68,68.5],[67,72],[73,72.5],[73,68],[74,72],[80,73],[87,75],[100,76],[113,74],[128,72.5],[140,73],[160,70],[170,70],[180,69]],
[[-180,69],[-170,66],[-173,64],[-180,65]],
[[180,65],[178,62.5],[170,60],[164,59.5],[162,56],[157,51],[155.5,56],[160,60.5],[163,62],[156,61.5],[155,59],[143,59],[135,54.5],[141,53],[140,48],[135,43.5],[130,42.5],[127.5,39.5],[129.5,36],[126.5,34.5],[126,37.5],[124.5,40],[121.5,39],[118,39],[122,37],[119,35],[122,31],[121,28],[116,23],[110,21],[108,21.5],[106,19],[109,13],[105,9],[103,11],[100,13.5],[99.5,9],[103.5,1.5],[100.5,3],[98,8],[98,16],[94.5,16],[94,19],[91,22.5],[87,21],[80,15],[80,10],[77.5,8],[73,20],[72,21],[69,22.5],[67,25],[61,25],[57,26],[56,27],[51,28],[48,30],[50,26.5],[52,24],[56,26],[59.5,22.5],[55,17],[45,13],[43,13],[39,21],[35,28],[34.5,31],[36,36],[30,36],[26.5,38],[27,40.5],[23,40.5],[23,37],[19.5,41],[14,45],[12.5,44],[18,40],[16,38],[12,42],[9,44],[3,43],[0,39],[-2,37],[-5,36],[-9,37]],
[[28,41.5],[28,45],[33,46],[38,47],[41,42],[36,41.5],[31,41],[28,41.5]],
[[47,45],[53,46.5],[53,40],[54,37],[49.5,37.5],[49,41],[47,45]],
[[-5.5,36],[10,37],[11,33.5],[19,30.5],[25,32],[34,31],[32.5,29.5],[34,27],[37,20],[39,15],[43,12],[51,12],[47,4],[40,-3],[39,-6],[40.5,-15],[35,-20],[35,-24],[32.5,-26],[30,-31],[26,-34],[19,-34.5],[15,-27],[12,-17],[13.5,-11],[12,-5],[9,0],[9.5,4],[4,6.3],[-4,5],[-8,4.5],[-13,8.5],[-17,14.5],[-16,21],[-13,27.5],[-9.5,31],[-5.5,36]],
[[49.5,-12],[50.3,-16],[47,-25],[44,-25],[43.5,-21],[44.5,-16],[49.5,-12]],
[[114,-22],[122,-18],[125,-14.5],[130,-12],[136,-12],[136,-15],[140,-17.5],[142,-11],[146,-19],[153,-26],[153,-31],[150,-37],[144,-38.5],[140,-38],[136,-35],[131,-31.5],[124,-33],[118,-35],[115,-34],[114,-22]],
[[145,-41],[148,-41],[147.5,-43.5],[146,-43.5],[145,-41]],
[[173,-35],[178,-38],[175,-41.5],[174,-39],[173,-35]],
[[172.5,-41],[174,-42],[170,-46.5],[167,-46],[172.5,-41]],
[[130,32],[132,34.5],[137,37],[140,41],[142,39],[140,35],[136,34],[131,31],[130,32]],
[[140,42],[142,45.5],[145,43.5],[142,42],[140,42]],
[[142,46],[143,54],[142,54],[142,46]],
[[95,5.5],[104,-2],[106,-6],[101,-3],[95,5.5]],
[[105.5,-6.5],[114,-7],[114,-8.5],[106,-7.5],[105.5,-6.5]],
[[109,1],[117,7],[119,1],[116,-4],[110,-3],[109,1]],
[[119.5,-5],[120,1],[125,1.5],[121,-1],[122.5,-5],[119.5,-5]],
[[131,-1],[141,-2.5],[147,-6],[150.5,-10.5],[143,-8.5],[138,-8],[133,-4],[131,-1]],
[[120,18],[122,18],[122,14],[124,13],[120,14],[120,18]],
[[122,7],[126,9.5],[126,6],[122,7]],
[[120,23],[122,25],[121,22],[120,23]],
[[80,9.5],[82,7],[80.5,6],[80,9.5]],
[[12,78],[20,80],[25,78],[17,77],[12,78]],
[[52,71],[58,74],[68,77],[60,75.5],[54,73],[52,71]],
[[-180,-78],[-170,-79],[-158,-77],[-145,-75],[-130,-74],[-110,-74.5],[-100,-73],[-85,-73],[-75,-72],[-68,-67],[-58,-63.5],[-62,-66],[-62,-70],[-60,-75],[-45,-78],[-35,-78],[-25,-75],[-15,-73],[-5,-71],[10,-70],[30,-69.5],[40,-68],[55,-66],[70,-68],[78,-68],[90,-66],[110,-66],[120,-67],[140,-66.5],[155,-69],[167,-71],[170,-75],[165,-78],[180,-78]],
[[-170,-79],[-160,-80],[-165,-83],[-175,-84]]
];

const jetStops = [0,.125,.375,.625,.875,1];
const jetColors = ["#000080","#0000ff","#00ffff","#ffff00","#ff0000","#800000"];
const jetScale = (lo,hi)=>({type:"linear",domain:jetStops.map(t=>lo+t*(hi-lo)),range:jetColors,interpolate:"rgb",clamp:true});
const jet16 = ["#0000bf","#0000ff","#0040ff","#0080ff","#00bfff","#00ffff","#40ffbf","#80ff80","#bfff40","#ffff00","#ffbf00","#ff8000","#ff4000","#ff0000","#bf0000","#800000"];

const grid = (rows,lats,lons)=>rows.flatMap((r,i)=>r.map((v,j)=>({lon:lons[j],lat:lats[i],v})));
const bGrid = bRuns.flatMap((runs,r)=>{
  const cells=[]; for(let k=0;k<runs.length;k+=2) for(let n=0;n<runs[k+1];n++) cells.push(runs[k]+.5);
  return cells.slice(0,60).map((v,c)=>({lon:-177+6*c,lat:87.5-5*r,v}));
});
const coastRows = coast.flatMap((s,i)=>s.map(([lon,lat])=>({lon,lat,i})));

const font = "'Liberation Sans',Arial,sans-serif";
const root = document.getElementById("root");

const panels = [
 {title:"(a) BDS-2+3 minimum satellite number",x0:45.7,x1:410.7,y0:23,y1:207,by0:232,by1:250,data:grid(aRows,lat10,lon10),yAxis:true,
  color:{type:"threshold",domain:d3.range(7,22),range:jet16},dom:[6,22],ticks:[6,8,10,12,14,16,18,20,22]},
 {title:"(b) GPS minimum satellite number",x0:39.3,x1:405,y0:303,y1:487,by0:513,by1:530,data:bGrid,yAxis:true,
  color:{type:"threshold",domain:[6,7,8],range:["#0000ff","#00ffff","#ffff00","#ff0000"]},dom:[5,9],ticks:[5,6,7,8,9]},
 {title:"(c) BDS-2+3 satellite number",x0:436.7,x1:803,y0:23,y1:207,by0:232,by1:250,data:grid(cRows,lat10,lon10),
  color:jetScale(8,24),dom:[8,24],ticks:[8,10,12,14,16,18,20,22,24]},
 {title:"(d) GPS satellite number",x0:430,x1:797,y0:303,y1:487,by0:513,by1:530,data:grid(dRows,dLats,lon15),
  color:jetScale(9,11),dom:[9,11],ticks:[9,9.5,10,10.5,11]},
 {title:"(e) BDS-2+3 PDOP",x0:829,x1:1195.7,y0:23,y1:207,by0:232,by1:250,data:grid(eRows,lat10,lon10),
  color:jetScale(1,2),dom:[1,2],ticks:[1,1.2,1.4,1.6,1.8,2]},
 {title:"(f) GPS PDOP",x0:823,x1:1190,y0:303,y1:487,by0:513,by1:530,data:grid(fRows,fLats,lon15),
  color:jetScale(1.545,2.05),dom:[1.545,2.05],ticks:[1.6,1.7,1.8,1.9,2]}
];

const textStyle = {fontFamily:font,fontSize:"13px",color:"#404040",background:"transparent",overflow:"visible"};
for (const p of panels) {
  const mL=44,mR=20,mT=24,mB=22;
  const map = Plot.plot({
    width:p.x1-p.x0+mL+mR,height:p.y1-p.y0+mT+mB,
    marginLeft:mL,marginRight:mR,marginTop:mT,marginBottom:mB,
    style:textStyle,
    x:{domain:[-180,180]},y:{domain:[-90,90]},
    color:p.color,
    marks:[
      Plot.raster(p.data,{x:"lon",y:"lat",fill:"v",interpolate:"barycentric"}),
      Plot.line(coastRows,{x:"lon",y:"lat",z:"i",stroke:"#000",strokeWidth:1,strokeOpacity:0.9}),
      Plot.frame({stroke:"#6a6a6a",strokeWidth:1}),
      Plot.axisX(xTicks,{anchor:"bottom",tickSize:-2,tickPadding:7,stroke:"#555",
        tickFormat:d=>xLabels[xTicks.indexOf(d)],label:null,fontSize:13,fill:"#404040"}),
      Plot.axisX(xTicks,{anchor:"top",tickSize:-2,tickFormat:()=>"",label:null,stroke:"#555"}),
      Plot.axisY(yTicks,{anchor:"right",tickSize:-2,tickFormat:()=>"",label:null,stroke:"#555"}),
      Plot.axisY(yTicks,{anchor:"left",tickSize:-2,tickPadding:6,stroke:"#555",
        tickFormat:p.yAxis?(d=>yLabels[yTicks.indexOf(d)]):(()=>""),label:null,fontSize:13,fill:"#404040"}),
      Plot.text([p.title],{frameAnchor:"top",dy:-9,fontWeight:"bold",fontSize:15.6,fill:"#222",lineAnchor:"middle",fontFamily:font})
    ]
  });
  map.style.left=(p.x0-mL)+"px"; map.style.top=(p.y0-mT)+"px";
  root.appendChild(map);

  const bar = Plot.plot({
    width:p.x1-p.x0+40,height:p.by1-p.by0+28,
    marginLeft:20,marginRight:20,marginTop:0,marginBottom:28,
    style:textStyle,
    x:{domain:p.dom,axis:null},y:{domain:[0,1],axis:null},
    color:p.color,
    marks:[
      Plot.raster({fill:(x,y)=>x,pixelSize:1,x1:p.dom[0],x2:p.dom[1],y1:0,y2:1}),
      Plot.frame({stroke:"#6a6a6a",strokeWidth:1}),
      Plot.axisX(p.ticks,{anchor:"bottom",tickSize:-2,tickPadding:12,stroke:"#555",label:null,fontSize:13,fill:"#404040",tickFormat:d=>String(d)}),
      Plot.axisX(p.ticks,{anchor:"top",tickSize:-2,tickFormat:()=>"",label:null,stroke:"#555"})
    ]
  });
  bar.style.left=(p.x0-20)+"px"; bar.style.top=p.by0+"px";
  root.appendChild(bar);
}
</script></body></html>
